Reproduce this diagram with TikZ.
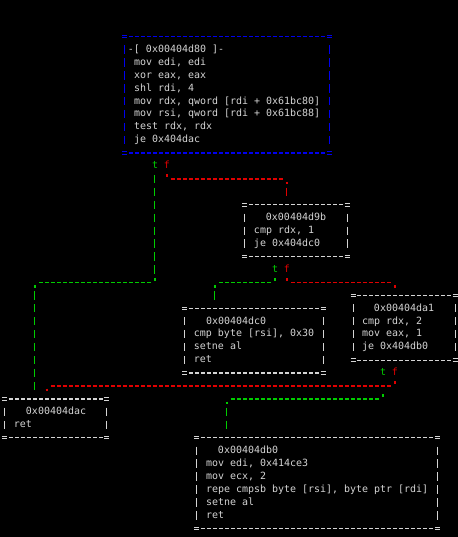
\documentclass[tikz,border=0pt]{standalone}
\usepackage{fontspec}
\newfontfamily\termfont{DejaVu Sans Mono}
\definecolor{termbg}{HTML}{000000}
\definecolor{termfg}{HTML}{D4D4D4}
\definecolor{tgreen}{HTML}{00CD00}
\definecolor{tred}{HTML}{E00000}
\definecolor{tblue}{HTML}{0000EE}
\tikzset{
  txt/.style={inner sep=0pt, outer sep=0pt, anchor=base west,
    font=\termfont\fontsize{9.967pt}{12.94pt}\selectfont, text=termfg},
  boxarea/.style={inner sep=0pt, outer sep=0pt, draw=none, anchor=center},
  hline/.style={line width=1.2pt, dash pattern=on 4pt off 2pt},
  vline/.style={line width=1pt, dash pattern=on 8.3pt off 4.64pt},
}
% box: name, first col, last col, first row, last row, colour
\newcommand\asciibox[6]{%
  \node[boxarea, minimum width={(#3-#2+1)*6pt}, minimum height={(#5-#4+1)*12.94pt}] (#1) at ({(#2+#3)/2},{(#4+#5)/2}) {};
  \draw[hline,#6] ({#2+2/3},#4) -- ({#3-2/3},#4);
  \draw[hline,#6] ({#2+2/3},#5) -- ({#3-2/3},#5);
  \draw[vline,#6] (#2,{#4+1-0.3207}) -- (#2,{#5-1+0.3207});
  \draw[vline,#6] (#3,{#4+1-0.3207}) -- (#3,{#5-1+0.3207});
  \foreach \cc in {#2,#3} \foreach \rr in {#4,#5} {
    \draw[#6,line width=1pt] ([xshift=-2.5pt,yshift=1.2pt]\cc,\rr) -- ([xshift=2.5pt,yshift=1.2pt]\cc,\rr);
    \draw[#6,line width=1pt] ([xshift=-2.5pt,yshift=-1.2pt]\cc,\rr) -- ([xshift=2.5pt,yshift=-1.2pt]\cc,\rr);
  }%
}
% text line: name, col, row, text
\newcommand\tline[4]{\node[txt] (#1) at ([yshift=-2.72pt]{#2-0.5},#3) {#4};}
\newcommand\acorner[2]{%
  \draw[#2,line width=1.1pt] ([xshift=-1.4pt,yshift=-4pt]#1) -- ([xshift=1.4pt,yshift=-4pt]#1);
  \draw[#2,line width=1.1pt] ([yshift=-2.6pt]#1) -- ([yshift=-5.4pt]#1);}
\newcommand\atick[2]{\draw[#2,line width=1.1pt] ([yshift=4.5pt]#1) -- ([yshift=1.5pt]#1);}
\begin{document}
\begin{tikzpicture}[x=6pt,y=-12.94pt]
\fill[termbg] (-0.8333,-2.8284) rectangle (75.5,38.671);
\useasboundingbox (-0.8333,-2.8284) rectangle (75.5,38.671);

% ---------- boxes ----------
\asciibox{b80}{20}{54}{0}{9}{tblue}
\tline{b80h}{21}{1}{-[ 0x00404d80 ]-}
\tline{b80a}{22}{2}{mov edi, edi}
\tline{b80b}{22}{3}{xor eax, eax}
\tline{b80c}{22}{4}{shl rdi, 4}
\tline{b80d}{22}{5}{mov rdx, qword [rdi + 0x61bc80]}
\tline{b80e}{22}{6}{mov rsi, qword [rdi + 0x61bc88]}
\tline{b80f}{22}{7}{test rdx, rdx}
\tline{b80g}{22}{8}{je 0x404dac}

\asciibox{b9b}{40}{57}{13}{17}{termfg}
\tline{b9bh}{44}{14}{0x00404d9b}
\tline{b9ba}{42}{15}{cmp rdx, 1}
\tline{b9bb}{42}{16}{je 0x404dc0}

\asciibox{bc0}{30}{53}{21}{26}{termfg}
\tline{bc0h}{34}{22}{0x00404dc0}
\tline{bc0a}{32}{23}{cmp byte [rsi], 0x30}
\tline{bc0b}{32}{24}{setne al}
\tline{bc0c}{32}{25}{ret}

\asciibox{ba1}{58}{75}{20}{25}{termfg}
\tline{ba1h}{62}{21}{0x00404da1}
\tline{ba1a}{60}{22}{cmp rdx, 2}
\tline{ba1b}{60}{23}{mov eax, 1}
\tline{ba1c}{60}{24}{je 0x404db0}

\asciibox{bac}{0}{17}{28}{31}{termfg}
\tline{bach}{4}{29}{0x00404dac}
\tline{baca}{2}{30}{ret}

\asciibox{bb0}{32}{72}{31}{38}{termfg}
\tline{bb0h}{36}{32}{0x00404db0}
\tline{bb0a}{34}{33}{mov edi, 0x414ce3}
\tline{bb0b}{34}{34}{mov ecx, 2}
\tline{bb0c}{34}{35}{repe cmpsb byte [rsi], byte ptr [rdi]}
\tline{bb0d}{34}{36}{setne al}
\tline{bb0e}{34}{37}{ret}

% ---------- branch labels ----------
\node[txt,text=tgreen] (t1) at ([yshift=-2.72pt]24.5,10) {t};
\node[txt,text=tred]   (f1) at ([yshift=-2.72pt]26.5,10) {f};
\node[txt,text=tgreen] (t2) at ([yshift=-2.72pt]44.5,18) {t};
\node[txt,text=tred]   (f2) at ([yshift=-2.72pt]46.5,18) {f};
\node[txt,text=tgreen] (t3) at ([yshift=-2.72pt]62.5,26) {t};
\node[txt,text=tred]   (f3) at ([yshift=-2.72pt]64.5,26) {f};
\coordinate (t1c) at (25,10);
\coordinate (t2c) at (45,18);
\coordinate (t3c) at (63,26);

% ---------- connector 1: b80 true -> bac ----------
\coordinate (g1k) at (25,19);
\coordinate (g1c) at (5,19);
\path (g1c |- bac.north) coordinate (g1e);
\draw[vline,tgreen] ([yshift=-8.79pt]t1c) -- ([yshift=8.79pt]g1k);
\atick{g1k}{tgreen}
\draw[hline,tgreen] ([xshift=4pt]g1c) -- ([xshift=-4pt]g1k);
\acorner{g1c}{tgreen}
\draw[vline,tgreen] ([yshift=-8.79pt]g1c) -- ([yshift=2.32pt]g1e);

% ---------- connector 2: b80 false -> b9b ----------
\coordinate (r2k) at (27,11);
\coordinate (r2c) at (47,11);
\path (r2c |- b9b.north) coordinate (r2e);
\atick{r2k}{tred}
\draw[hline,tred] ([xshift=4pt]r2k) -- ([xshift=-4pt]r2c);
\acorner{r2c}{tred}
\draw[vline,tred] ([yshift=-8.79pt]r2c) -- ([yshift=2.32pt]r2e);

% ---------- connector 3: b9b true -> bc0 ----------
\coordinate (g3k) at (45,19);
\coordinate (g3c) at (35,19);
\path (g3c |- bc0.north) coordinate (g3e);
\atick{g3k}{tgreen}
\draw[hline,tgreen] ([xshift=4pt]g3c) -- ([xshift=-4pt]g3k);
\acorner{g3c}{tgreen}
\draw[vline,tgreen] ([yshift=-8.79pt]g3c) -- ([yshift=2.32pt]g3e);

% ---------- connector 4: b9b false -> ba1 ----------
\coordinate (r4k) at (47,19);
\coordinate (r4c) at (65,19);
\atick{r4k}{tred}
\draw[hline,tred] ([xshift=4pt]r4k) -- ([xshift=-4pt]r4c);
\acorner{r4c}{tred}

% ---------- connector 5: ba1 true -> bb0 ----------
\coordinate (g5k) at (63,28);
\coordinate (g5c) at (37,28);
\path (g5c |- bb0.north) coordinate (g5e);
\atick{g5k}{tgreen}
\draw[hline,tgreen] ([xshift=4pt]g5c) -- ([xshift=-4pt]g5k);
\acorner{g5c}{tgreen}
\draw[vline,tgreen] ([yshift=-8.79pt]g5c) -- ([yshift=2.32pt]g5e);

% ---------- connector 6: ba1 false -> bac ----------
\coordinate (r6k) at (65,27);
\coordinate (r6c) at (7,27);
\atick{r6k}{tred}
\draw[hline,tred] ([xshift=4pt]r6c) -- ([xshift=-4pt]r6k);
\acorner{r6c}{tred}
\end{tikzpicture}
\end{document}
